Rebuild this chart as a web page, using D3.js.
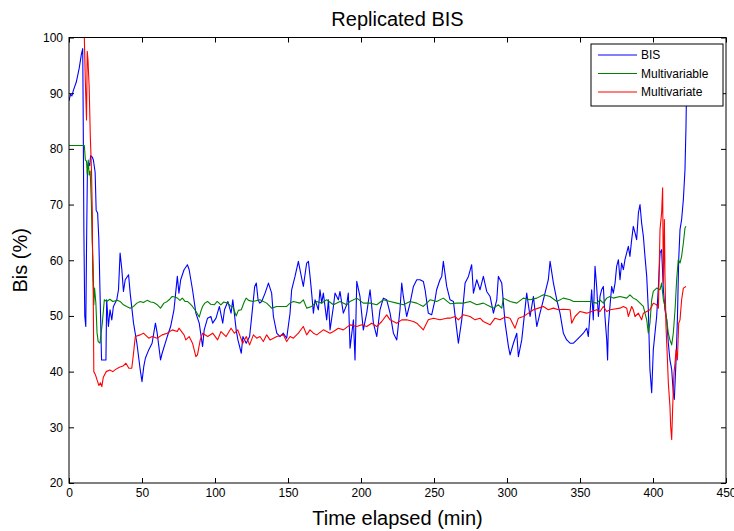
<!DOCTYPE html>
<html>
<head>
<meta charset="utf-8">
<script src="https://cdn.jsdelivr.net/npm/d3@7"></script>
<style>
  html, body { margin: 0; padding: 0; background: #fff; }
  svg { display: block; }
  text { font-family: "Liberation Sans", Arial, Helvetica, sans-serif; fill: #000; }
</style>
</head>
<body>
<div id="chart"></div>
<script>
// Time elapsed (min) and BIS readings [time, value]
const bisSeries = [
  [0,88.6],[1,89.8],[2,89.5],[3,90.5],[5,92],[7,94.5],[8.5,97],[9.4,98],[9.7,87],[10.2,65],[10.8,50],[11.5,48.1],
  [12,62],[12.6,76],[13.2,77.5],[14.2,77],[14.8,78.8],[16,78.5],[16.7,78],[17.9,75.8],[18.6,69],[19.6,68.5],
  [20.4,64],[20.7,60.7],[21.2,54.7],[22.3,42.1],[25.3,42.1],[25.8,52.9],[27,48.1],[28.1,51.1],[29.3,49.3],
  [30.4,51.7],[32.7,52.9],[33.9,54.7],[35,61.3],[36.2,58.3],[37.3,54.4],[38.5,56.5],[40.8,57.4],[41.9,54.1],
  [44.2,48.7],[46.5,45.1],[48.8,40.3],[50,38.2],[51.2,40.9],[52.3,42.4],[54.6,43.9],[56.9,45.1],[59.2,48.7],
  [60.4,46.9],[62.7,42.1],[63.8,43.3],[67.3,46.3],[69.6,48.1],[71.9,51.1],[74.2,57.1],[75.3,54.1],[76.5,56.5],
  [78.8,58.3],[81.1,59.2],[82.3,58.3],[84.6,54.7],[86.9,50.5],[89.2,48.7],[91.5,44.5],[92.6,47.5],[94.9,49.6],
  [97.2,49.9],[98.4,48.7],[100.7,49.6],[103,51.7],[105.3,48.7],[106.5,51.1],[108.8,52.6],[111,50.5],[112.2,52.9],
  [114.5,47.5],[115.7,45.7],[118,43.3],[119.1,46.3],[120.3,45.7],[121.4,45.1],[123.7,46.3],[124.9,49.3],
  [127.2,55.3],[128.3,55.9],[129.5,52.9],[130.6,52.3],[132,52.6],[134.3,54.1],[136.6,55.9],[138.8,54.1],
  [140,49.9],[142.3,46.9],[144.5,46.3],[146.8,46.9],[149.1,46.0],[151.4,50.5],[152.5,54.7],[154.8,57.1],
  [157.1,59.8],[158.2,58.3],[160.5,55.3],[162.8,59.5],[164,59.8],[165.1,57.1],[166.2,54.1],[167.4,50.5],
  [168.5,52.9],[170.8,51.1],[171.9,54.7],[173.1,52.3],[174.2,54.1],[176.5,49.3],[177.7,52.9],[178.8,47.5],
  [181.1,51.7],[182.2,54.1],[184.5,52.9],[185.6,54.4],[187.9,50.5],[190.2,52.0],[191.3,54.1],[192.5,44.2],
  [194.8,49.3],[195.9,42.1],[197.1,56.2],[199.3,53.5],[201.6,47.5],[203.9,50.5],[206.2,54.7],[208.5,48.7],
  [210.8,46.3],[213,51.1],[215.3,53.2],[217.6,52.9],[219.9,50.5],[222.2,46.9],[224.5,45.7],[226.7,51.1],
  [227.9,55.9],[229,53.5],[231.3,49.9],[233.6,52.3],[235.9,55.3],[238.2,56.5],[240.4,56.5],[242.7,56.2],
  [243.9,54.7],[246.1,50.5],[248.4,50.2],[250.7,52.9],[251.8,54.7],[254.1,56.5],[255.3,57.1],[256.4,59.8],
  [258.7,55.3],[261,52.9],[263.3,52.6],[265.6,47.5],[266.7,45.1],[269,49.3],[271.3,55.9],[273.6,57.1],
  [275.8,59.2],[277,54.1],[279.3,56.5],[281.5,54.7],[283.8,57.1],[286.1,54.4],[288.4,53.5],[290.7,50.5],
  [293,52.9],[294.1,57.1],[296.4,55.9],[298.7,48.7],[301,44.5],[302.1,43.0],[304.4,45.1],[306.7,46.9],
  [307.8,42.7],[310.1,45.7],[313.5,54.1],[315.8,49.9],[318.1,53.5],[320.4,48.1],[322.6,50.5],[324.9,52.9],
  [328.3,56.5],[329.5,59.8],[331.8,55.9],[334.1,52.9],[336.3,50.5],[338.6,46.9],[340.9,45.7],[343.2,45.1],
  [345.5,45.1],[347.8,45.7],[350,46.3],[352.3,46.9],[354.6,47.8],[355.7,46.3],[358,54.7],[359.1,49.3],
  [360.3,58.9],[361.4,55.3],[362.6,49.9],[363.7,53.5],[364.8,54.7],[366,55.3],[367.1,49.9],[368.3,45.7],
  [368.9,42.1],[369.4,48.1],[370.5,51.7],[371.7,55.3],[372.8,54.1],[374,55.9],[375.1,58.9],[376.3,60.1],
  [377.4,56.5],[378.5,59.5],[379.7,58.3],[380.8,60.1],[383.1,62.5],[384.2,60.7],[385.4,63.7],[386.5,66.1],
  [387.7,64.9],[388.8,63.7],[390,68.5],[391.1,70.0],[392.2,66.7],[393.4,64.3],[394.5,60.7],[395.7,57.1],
  [396.8,51.1],[397.9,40.4],[399.1,36.2],[400.2,43.9],[402.5,49.9],[403.7,55.3],[404.8,61.3],[405.9,61.9],
  [407.1,54.7],[408.2,51.1],[409.4,49.3],[410.5,45.1],[411.6,42.1],[412.8,40.4],[413.9,36.2],[414.6,35.0],
  [415.8,42.1],[416.7,49.3],[417.6,60.1],[418.5,65.5],[419.6,67.3],[420.8,70.9],[421.9,76.2],[422.6,84],[423,91]
];

// Multivariable model estimate [time, value]
const multivariableSeries = [
  [0,80.6],[10.5,80.6],[11.2,78],[12,77.8],[12.5,75.5],[13.2,78],[13.8,75.3],[14.5,76],[15.3,70.5],[15.8,64],
  [16.6,58.9],[17,52],[17.5,55],[18.4,52.3],[19.2,47],[20,45.4],[21.2,45.1],[22.8,48.7],[24.2,52.9],[25.8,52.6],
  [28,53],[30,52.6],[33,52.8],[35,52.6],[37.3,52.0],[39.5,51.7],[41.9,51.4],[44.2,51.7],[46.5,52.3],[48.8,52.6],
  [51,52.4],[53.5,52.8],[56,52.5],[58,52.4],[60.5,52],[62.7,51.4],[65,52.3],[67.3,52.6],[69,53],[70.7,53.5],
  [72.5,53.4],[74.2,53.2],[76,52.8],[77.6,53.2],[79.5,52.6],[81.1,52.6],[82.8,52.2],[84.6,51.7],[87,50.8],
  [89.2,49.8],[90.5,51],[91.5,51.7],[93,52.3],[94.9,52.6],[97,52.1],[99.5,52.0],[101.5,52.6],[104,52.0],
  [106,52.5],[108.8,52.3],[110.5,51.8],[112.2,51.7],[114.5,50.0],[116,51],[118,51.1],[120,52.5],[121.4,53.2],
  [123,52.8],[126,52.6],[130.8,52.9],[135.4,52.3],[138.8,51.4],[142.3,51.7],[149.1,51.7],[151.4,52.3],
  [153.7,52.6],[158.2,52.3],[160.5,52.9],[162.8,51.4],[166.2,51.7],[169.7,52.6],[173.1,52.3],[176.5,52.9],
  [181.1,52.0],[185.6,52.6],[190.2,52.0],[192.5,52.6],[197.1,53.2],[201.6,52.3],[206.2,52.3],[210.8,52.0],
  [215.3,52.9],[219.9,52.6],[224.5,52.3],[229,52.0],[233.6,52.6],[238.2,52.3],[242.7,51.7],[247.3,52.9],
  [251.8,52.6],[256.4,53.2],[261,52.2],[265.6,52.3],[270.1,52.3],[274.7,52.6],[279.3,52.0],[283.8,52.3],
  [288.4,51.7],[290.7,51.4],[294.1,52.0],[296.4,51.4],[297.5,53.2],[302.1,52.6],[306.7,52.3],[311.2,53.2],
  [315.8,52.9],[320.4,53.2],[324.9,53.8],[329.5,53.5],[334.1,52.6],[338.6,53.2],[343.2,52.9],[345.5,52.6],
  [350,52.6],[356.8,52.6],[361.4,52.3],[363.7,52.9],[366,52.3],[368.3,53.2],[370.5,53.5],[372.8,53.2],
  [377.4,53.5],[382,53.2],[384.2,53.8],[386.5,53.2],[388.8,52.9],[391.1,52.3],[393.4,51.7],[394.5,50.5],
  [395.7,49.3],[396.8,46.9],[397.9,48.7],[399.1,52.9],[400.2,54.4],[402.5,55.0],[404.8,54.7],[405.9,55.9],
  [407.1,52.9],[408.2,51.7],[409.4,49.3],[410.5,46.9],[411.6,45.7],[412.8,44.8],[413.9,46.9],[415.1,51.1],
  [416.2,56.5],[417.3,60.1],[418.5,59.5],[419.6,60.7],[420.8,63.1],[421.9,65.8],[422.6,66.1]
];

// Multivariate model estimate [time, value]
const multivariateSeries = [
  [10.5,100],[11.2,92],[12,85.2],[12.5,97.5],[13,96],[13.8,91.2],[14.6,82.2],[15.4,76.2],[16,68],[16.2,58],
  [16.6,54],[17,40],[18,39.5],[19.5,38.3],[20.5,37.5],[21.5,38],[22.5,37.3],[23.5,39],[25.5,40],[28,40.3],
  [30,40],[32,40.4],[34.5,40.8],[37,41],[39,41.5],[41,40.6],[43,40.6],[44.2,43.3],[45.4,46.3],[48.8,46.6],
  [51,46.9],[54.6,46],[57,46.3],[60.4,46],[63.8,46.6],[67.3,46.9],[70.7,47.5],[74.2,47.2],[75.3,47.8],
  [78.8,46.6],[80,45.7],[82.3,46.3],[84.6,45.1],[86.9,42.7],[88,43],[89.9,45.7],[91.5,46.9],[95,46.3],
  [98.4,46.9],[101.8,45.7],[104.1,47.2],[107.6,46.3],[111,47.8],[113.3,46.9],[115.6,47.5],[119,45.1],
  [121.4,46.3],[123.7,44.8],[126.3,46.6],[128.6,46.0],[130.8,46.3],[133.1,45.4],[135.4,46.6],[137.7,45.7],
  [142.3,46.3],[146.8,46.6],[149.1,45.4],[151.4,46.3],[153.7,46.0],[157.1,46.9],[160.5,48.1],[162.8,46.6],
  [165.1,47.5],[167.4,46.9],[169.7,46.6],[174.2,47.5],[178.8,46.9],[181.1,47.2],[184.5,47.8],[187.9,47.5],
  [192.5,48.4],[197.1,48.1],[200.5,48.4],[203.9,48.1],[207.3,48.7],[210.8,48.1],[214.2,49.0],[217.6,50.2],
  [219.9,49.3],[224.5,48.7],[227.9,49.3],[231.3,49.3],[235.9,49.0],[238.2,48.7],[242.7,47.5],[246.1,49.3],
  [249.6,49.6],[254.1,49.3],[258.7,49.6],[261,49.6],[264.4,49.9],[266.7,49.3],[270.1,50.2],[274.7,49.9],
  [278.1,49.3],[281.5,49.6],[283.8,49.0],[288.4,48.4],[291.8,49.6],[295.2,49.3],[298.7,49.8],[302.1,49.6],
  [305.5,47.8],[307.8,49.6],[311.2,49.9],[314.7,50.5],[318.1,51.1],[321.5,51.4],[324.9,51.7],[328.3,51.1],
  [331.8,51.4],[335.2,51.1],[338.6,51.2],[343.2,51.1],[344.3,48.7],[346.6,49.9],[350,50.8],[354.6,50.5],
  [358,50.8],[361.4,51.1],[363.7,50.8],[366,51.7],[368.3,50.8],[370.5,51.1],[372.8,51.2],[377.4,51.4],
  [379.7,51.7],[382,51.4],[383.1,49.9],[385.4,51.7],[386.5,51.1],[387.7,49.9],[390,50.5],[392.2,49.3],
  [393.4,50.5],[395.7,50.8],[397.9,51.1],[400.2,52.3],[402.5,52.0],[403.7,51.4],[404.8,65.5],[405.9,68.5],
  [406.6,73.0],[407.1,55.9],[407.8,67.3],[408.2,57.1],[408.9,48.1],[409.8,42.7],[410.5,38.0],[411.6,33.8],
  [412.1,30.2],[412.8,27.8],[413.5,33.8],[414.4,39.8],[415.1,41.6],[415.8,43.9],[416.7,42.1],[417.6,48.7],
  [418.5,49.3],[419.6,52.9],[420.8,55.0],[422.6,55.3]
];

const xTicks = [0, 50, 100, 150, 200, 250, 300, 350, 400, 450];
const yTicks = [20, 30, 40, 50, 60, 70, 80, 90, 100];
const seriesNames = ["BIS", "Multivariable", "Multivariate"];
const seriesColors = ["#0000ff", "#008000", "#ff0000"];

const width = 734, height = 531;
const plot = { left: 69, right: 726, top: 37.5, bottom: 483 };

const svg = d3.select("#chart").append("svg")
  .attr("width", width).attr("height", height);

svg.append("rect").attr("width", width).attr("height", height).attr("fill", "#fff");

const x = d3.scaleLinear().domain([0, 450]).range([plot.left, plot.right]);
const y = d3.scaleLinear().domain([20, 100]).range([plot.bottom, plot.top]);

svg.append("defs").append("clipPath").attr("id", "plot-clip")
  .append("rect")
  .attr("x", plot.left).attr("y", plot.top)
  .attr("width", plot.right - plot.left).attr("height", plot.bottom - plot.top);

const line = d3.line().x(d => x(d[0])).y(d => y(d[1]));

const lines = svg.append("g").attr("clip-path", "url(#plot-clip)");
[bisSeries, multivariableSeries, multivariateSeries].forEach((data, i) => {
  lines.append("path")
    .datum(data)
    .attr("fill", "none")
    .attr("stroke", seriesColors[i])
    .attr("stroke-width", 1.1)
    .attr("stroke-linejoin", "round")
    .attr("d", line);
});

// Axes: ticks point inward on all four sides
function styleAxis(g) {
  g.select(".domain").remove();
  g.selectAll(".tick line").attr("stroke", "#000");
  g.selectAll(".tick text").attr("font-size", 12).attr("fill", "#000")
    .style("font-family", '"Liberation Sans", Arial, sans-serif');
}

svg.append("g")
  .attr("transform", `translate(0,${plot.bottom})`)
  .call(d3.axisBottom(x).tickValues(xTicks).tickSize(-5).tickSizeOuter(0).tickPadding(5).tickFormat(d3.format("d")))
  .call(styleAxis);

svg.append("g")
  .attr("transform", `translate(0,${plot.top})`)
  .call(d3.axisTop(x).tickValues(xTicks).tickSize(-5).tickSizeOuter(0).tickFormat(""))
  .call(styleAxis);

svg.append("g")
  .attr("transform", `translate(${plot.left},0)`)
  .call(d3.axisLeft(y).tickValues(yTicks).tickSize(-5).tickSizeOuter(0).tickPadding(6).tickFormat(d3.format("d")))
  .call(styleAxis);

svg.append("g")
  .attr("transform", `translate(${plot.right},0)`)
  .call(d3.axisRight(y).tickValues(yTicks).tickSize(-5).tickSizeOuter(0).tickFormat(""))
  .call(styleAxis);

// Axes box
svg.append("rect")
  .attr("x", plot.left).attr("y", plot.top)
  .attr("width", plot.right - plot.left).attr("height", plot.bottom - plot.top)
  .attr("fill", "none").attr("stroke", "#000").attr("stroke-width", 1);

// Title and axis labels
svg.append("text")
  .attr("x", (plot.left + plot.right) / 2).attr("y", 26)
  .attr("text-anchor", "middle").attr("font-size", 20)
  .text("Replicated BIS");

svg.append("text")
  .attr("x", (plot.left + plot.right) / 2).attr("y", 525)
  .attr("text-anchor", "middle").attr("font-size", 20)
  .text("Time elapsed (min)");

svg.append("text")
  .attr("transform", `translate(27,${(plot.top + plot.bottom) / 2}) rotate(-90)`)
  .attr("text-anchor", "middle").attr("font-size", 20)
  .text("Bis (%)");

// Legend
const legend = svg.append("g").attr("transform", "translate(591,44)");
legend.append("rect")
  .attr("width", 132).attr("height", 62)
  .attr("fill", "#fff").attr("stroke", "#000").attr("stroke-width", 1);
seriesNames.forEach((name, i) => {
  const cy = 11 + i * 18.5;
  legend.append("line")
    .attr("x1", 7).attr("x2", 46).attr("y1", cy).attr("y2", cy)
    .attr("stroke", seriesColors[i]).attr("stroke-width", 1.1);
  legend.append("text")
    .attr("x", 50).attr("y", cy).attr("dy", "0.35em")
    .attr("font-size", 12)
    .text(name);
});
</script>
</body>
</html>
